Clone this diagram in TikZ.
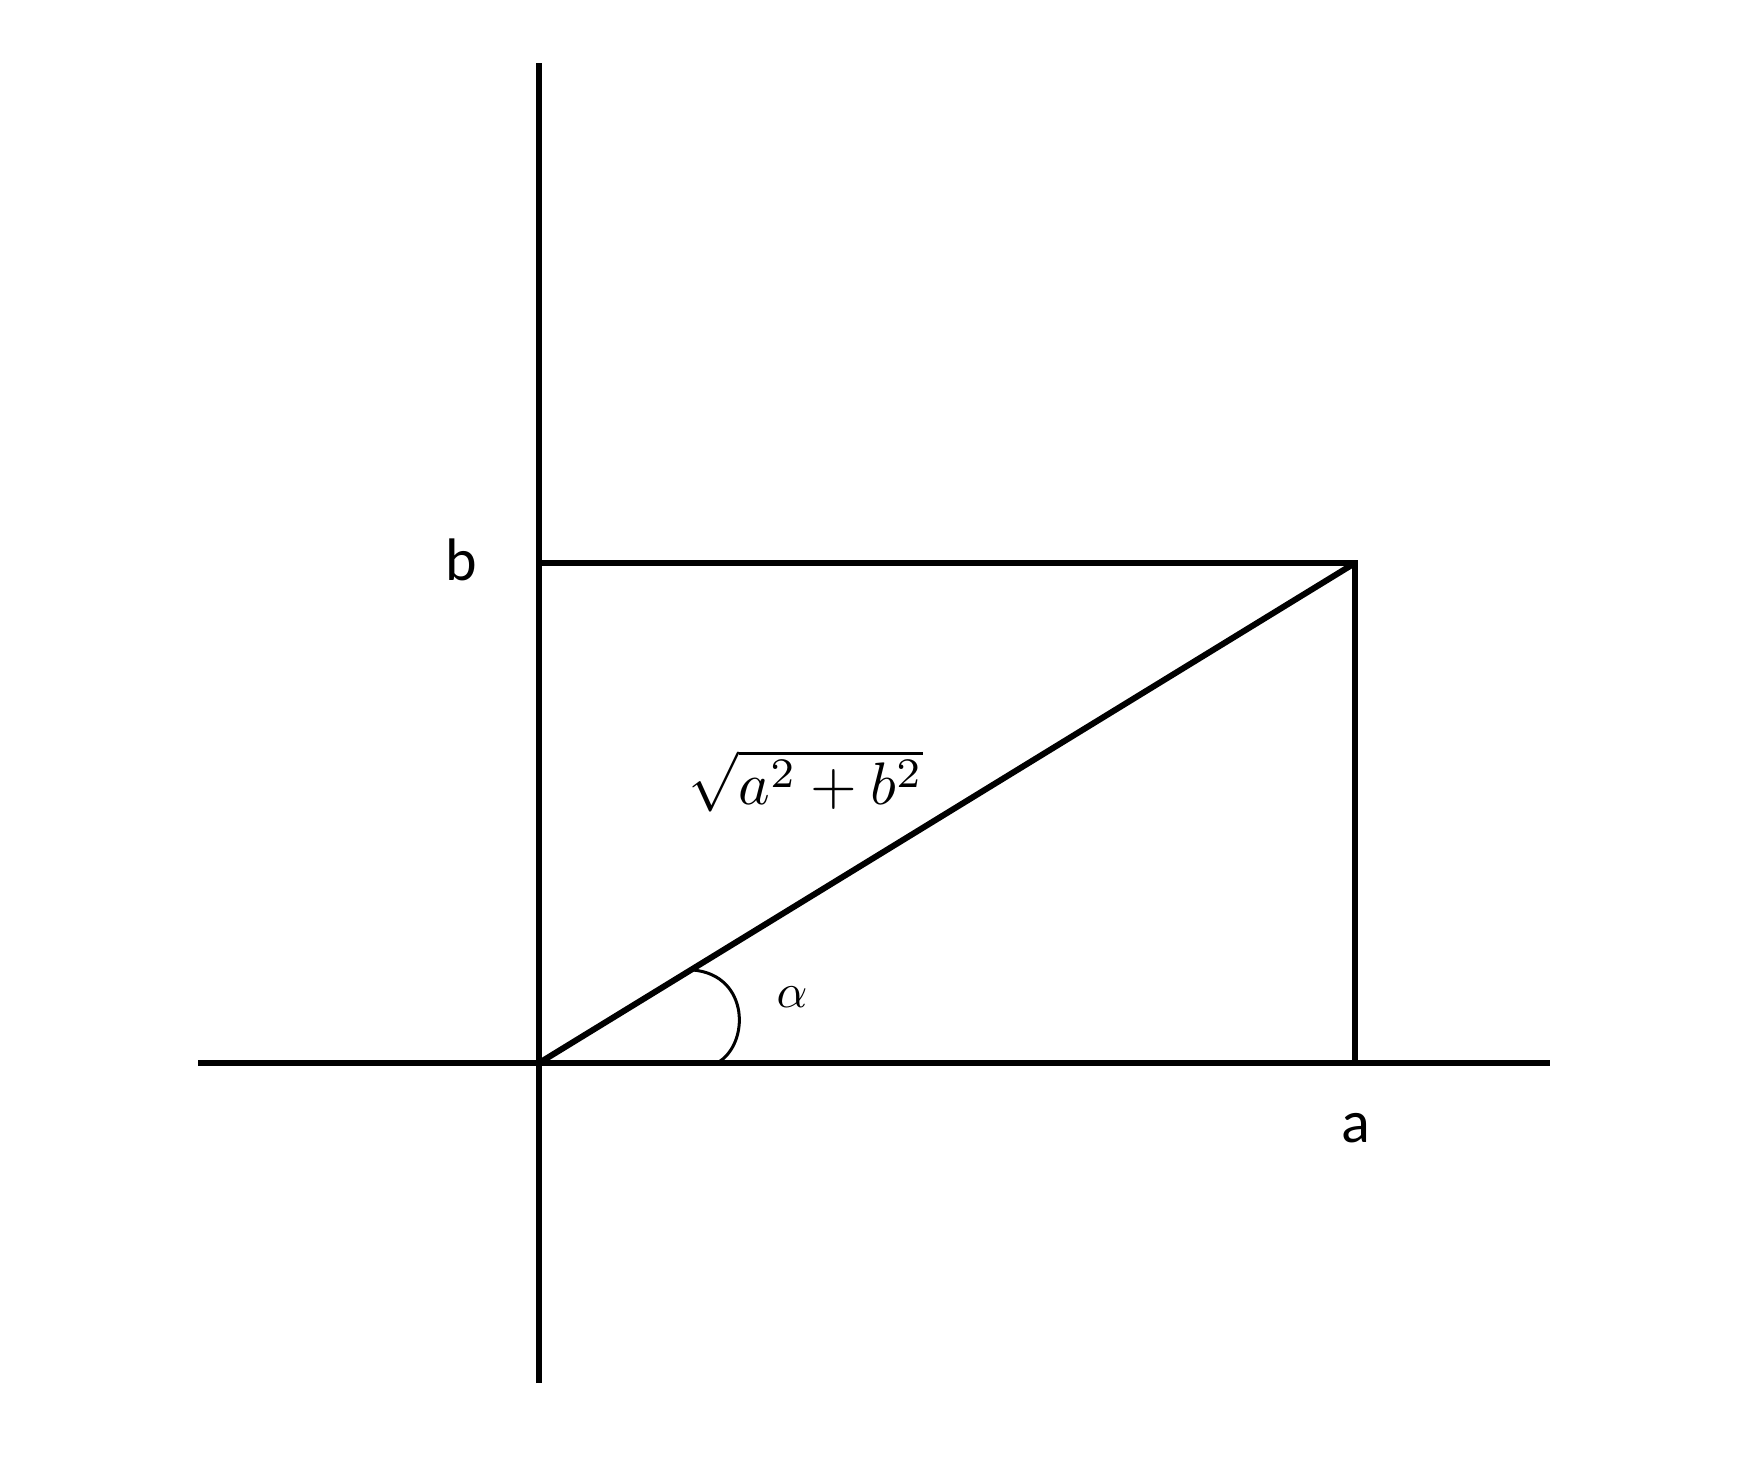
\documentclass[tikz,border=0pt]{standalone}
\usepackage{fontspec}
\setmainfont{Carlito}
\usepackage{amsmath}
\usepackage{graphicx}
\begin{document}
\begin{tikzpicture}[x=1pt,y=-1pt,
  axisline/.style={line width=6.5pt,black},
  figline/.style={line width=6pt,black},
  anglearc/.style={line width=3pt,black},
  lbl/.style={inner sep=0pt,font=\fontsize{60}{68}\selectfont}]
\useasboundingbox[fill=white] (0,0) rectangle (1747,1461);
% coordinates
\coordinate (O) at (539,1063);
\coordinate (ytop) at (539,63);
\coordinate (ybot) at (539,1383);
\coordinate (xleft) at (198,1063);
\coordinate (xright) at (1550,1063);
\coordinate (B) at (539,563);
\coordinate (P) at (1355,563);
\coordinate (A) at (1355,1063);
\coordinate (arcS) at (693,970);
\coordinate (arcE) at (717,1063);
% axes
\draw[axisline] (ybot) -- (ytop);
\draw[axisline] (xleft) -- (xright);
% rectangle and diagonal
\draw[figline] (B) -- (P) -- (A);
\draw[figline] (O) -- (P);
% angle arc
\draw[anglearc] (arcS) .. controls (750,975) and (750,1045) .. (arcE);
% labels
\node[lbl] (lb) at (461,560) {b};
\node[lbl] (la) at (1356,1128) {a};
\node[inner sep=0pt] (lalpha) at (792,997) {\scalebox{4.8}{$\alpha$}};
\node[inner sep=0pt] (lsqrt) at (806,781) {\scalebox{6}{$\sqrt{a^2+b^2}$}};
\end{tikzpicture}
\end{document}
